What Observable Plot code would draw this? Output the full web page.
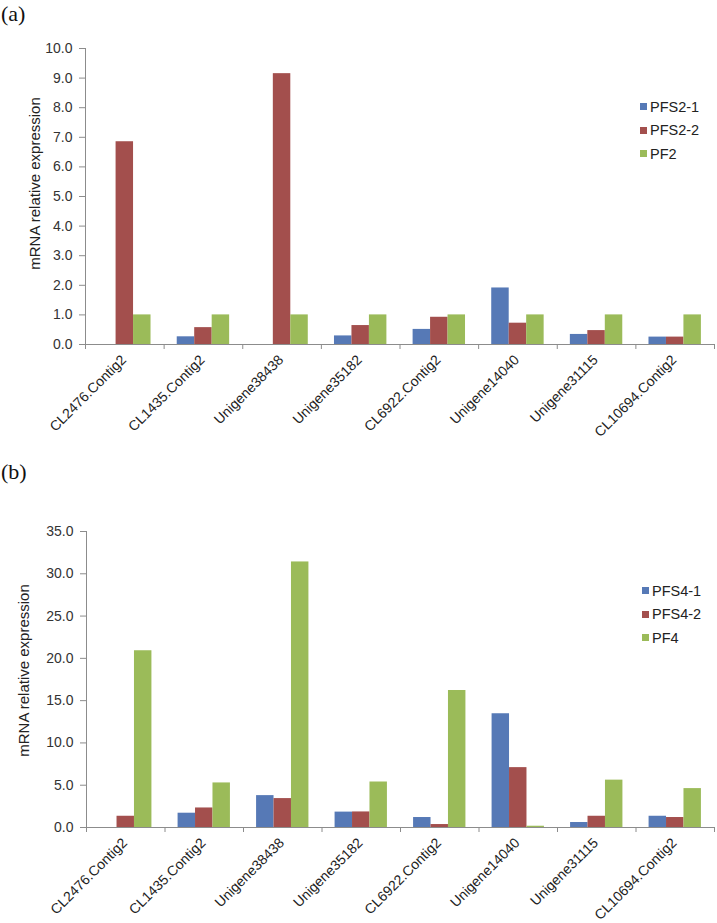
<!DOCTYPE html>
<html>
<head>
<meta charset="utf-8">
<script src="https://cdn.jsdelivr.net/npm/d3@7"></script>
<script src="https://cdn.jsdelivr.net/npm/@observablehq/plot@0.6"></script>
<style>
  html, body { margin: 0; padding: 0; background: #fff; }
  #wrap { position: relative; width: 717px; height: 923px; font-family: Arial, "Liberation Sans", sans-serif; }
  .panel { position: absolute; left: 0; width: 717px; }
  .panel svg { overflow: visible; }
  .tag { position: absolute; font-family: "Liberation Serif", "DejaVu Serif", serif; font-size: 22px; line-height: 1; color: #111; }
  .legend { position: absolute; font-family: Arial, "Liberation Sans", sans-serif; font-size: 14.5px; color: #222; }
  .legend div { display: flex; align-items: center; height: 23.5px; }
  .legend span.sw { display: inline-block; width: 7px; height: 7px; margin-right: 3px; }
</style>
</head>
<body>
<div id="wrap"></div>
<script>
const categories = ["CL2476.Contig2", "CL1435.Contig2", "Unigene38438", "Unigene35182",
                    "CL6922.Contig2", "Unigene14040", "Unigene31115", "CL10694.Contig2"];

const seriesA = ["PFS2-1", "PFS2-2", "PF2"];
const valuesA_PFS2_1 = [0, 0.26, 0, 0.29, 0.51, 1.91, 0.34, 0.25];
const valuesA_PFS2_2 = [6.85, 0.57, 9.15, 0.64, 0.92, 0.72, 0.47, 0.25];
const valuesA_PF2    = [1.0, 1.0, 1.0, 1.0, 1.0, 1.0, 1.0, 1.0];
const yTicksA = [0, 1, 2, 3, 4, 5, 6, 7, 8, 9, 10];

const seriesB = ["PFS4-1", "PFS4-2", "PF4"];
const valuesB_PFS4_1 = [0, 1.69, 3.77, 1.82, 1.18, 13.45, 0.59, 1.33];
const valuesB_PFS4_2 = [1.33, 2.31, 3.42, 1.84, 0.35, 7.08, 1.33, 1.18];
const valuesB_PF4    = [20.9, 5.27, 31.4, 5.38, 16.2, 0.15, 5.6, 4.6];
const yTicksB = [0, 5, 10, 15, 20, 25, 30, 35];

const colors = ["#5679B6", "#A34F4D", "#9BBB59"];
const yLabel = "mRNA relative expression";

function buildRows(series, valueLists) {
  const rows = [];
  categories.forEach((c, i) => {
    series.forEach((s, j) => rows.push({cat: c, ci: i, series: s, sj: j, value: valueLists[j][i]}));
  });
  return rows;
}

// group layout within each category slot (fractions of a slot)
const groupPad = 1 / 6, barW = 2 / 9;

function chart({rows, series, yTicks, height, marginTop, marginBottom, marginLeft, labelOffset, labelShift}) {
  const n = categories.length;
  return Plot.plot({
    width: 717,
    height,
    marginTop,
    marginBottom,
    marginLeft,
    marginRight: 3,
    style: {fontFamily: "Arial, 'Liberation Sans', sans-serif", background: "#fff"},
    x: {type: "linear", domain: [0, n], axis: null},
    y: {domain: [yTicks[0], yTicks[yTicks.length - 1]], axis: null},
    color: {domain: series, range: colors},
    marks: [
      Plot.rectY(rows, {
        x1: d => d.ci + groupPad + d.sj * barW,
        x2: d => d.ci + groupPad + (d.sj + 1) * barW,
        y1: 0,
        y2: "value",
        fill: "series"
      }),
      Plot.ruleX([0], {stroke: "#8c8c8c", strokeWidth: 1}),
      Plot.ruleY([0], {stroke: "#8c8c8c", strokeWidth: 1}),
      Plot.axisX(d3.range(n + 1), {
        anchor: "bottom", tickSize: 5, tickFormat: () => "", stroke: "#8c8c8c", label: null
      }),
      Plot.axisY(yTicks, {
        anchor: "left", tickSize: 6, tickPadding: 7, tickFormat: d3.format(".1f"),
        stroke: "#8c8c8c", fill: "#333", fontSize: 14, label: null
      }),
      Plot.text(categories, {
        x: (d, i) => i + 0.5,
        y: 0,
        text: d => d,
        rotate: -45,
        textAnchor: "end",
        lineAnchor: "middle",
        dx: -1,
        dy: 13,
        fontSize: 14,
        fill: "#222"
      }),
      Plot.text([yLabel], {
        frameAnchor: "left",
        text: d => d,
        rotate: -90,
        textAnchor: "middle",
        dx: -labelOffset,
        dy: labelShift,
        fontSize: 15,
        fill: "#222",
        lineAnchor: "middle"
      })
    ]
  });
}

const wrap = document.getElementById("wrap");

function addPanel(top, plot, tag, tagTop, series, legendLeft, legendTop) {
  const p = document.createElement("div");
  p.className = "panel";
  p.style.top = top + "px";
  p.appendChild(plot);
  wrap.appendChild(p);

  const t = document.createElement("div");
  t.className = "tag";
  t.style.left = "1px";
  t.style.top = tagTop + "px";
  t.textContent = tag;
  wrap.appendChild(t);

  const lg = document.createElement("div");
  lg.className = "legend";
  lg.style.left = legendLeft + "px";
  lg.style.top = legendTop + "px";
  series.forEach((s, j) => {
    const row = document.createElement("div");
    const sw = document.createElement("span");
    sw.className = "sw";
    sw.style.background = colors[j];
    row.appendChild(sw);
    row.appendChild(document.createTextNode(s));
    lg.appendChild(row);
  });
  wrap.appendChild(lg);
}

const plotA = chart({
  rows: buildRows(seriesA, [valuesA_PFS2_1, valuesA_PFS2_2, valuesA_PF2]),
  series: seriesA, yTicks: yTicksA,
  height: 440, marginTop: 48, marginBottom: 96, marginLeft: 85, labelOffset: 50, labelShift: -13
});
const plotB = chart({
  rows: buildRows(seriesB, [valuesB_PFS4_1, valuesB_PFS4_2, valuesB_PF4]),
  series: seriesB, yTicks: yTicksB,
  height: 483, marginTop: 91, marginBottom: 96, marginLeft: 86, labelOffset: 62, labelShift: -9
});

addPanel(0, plotA, "(a)", 3, seriesA, 640, 95);
addPanel(440, plotB, "(b)", 461, seriesB, 642, 579);
</script>
</body>
</html>
